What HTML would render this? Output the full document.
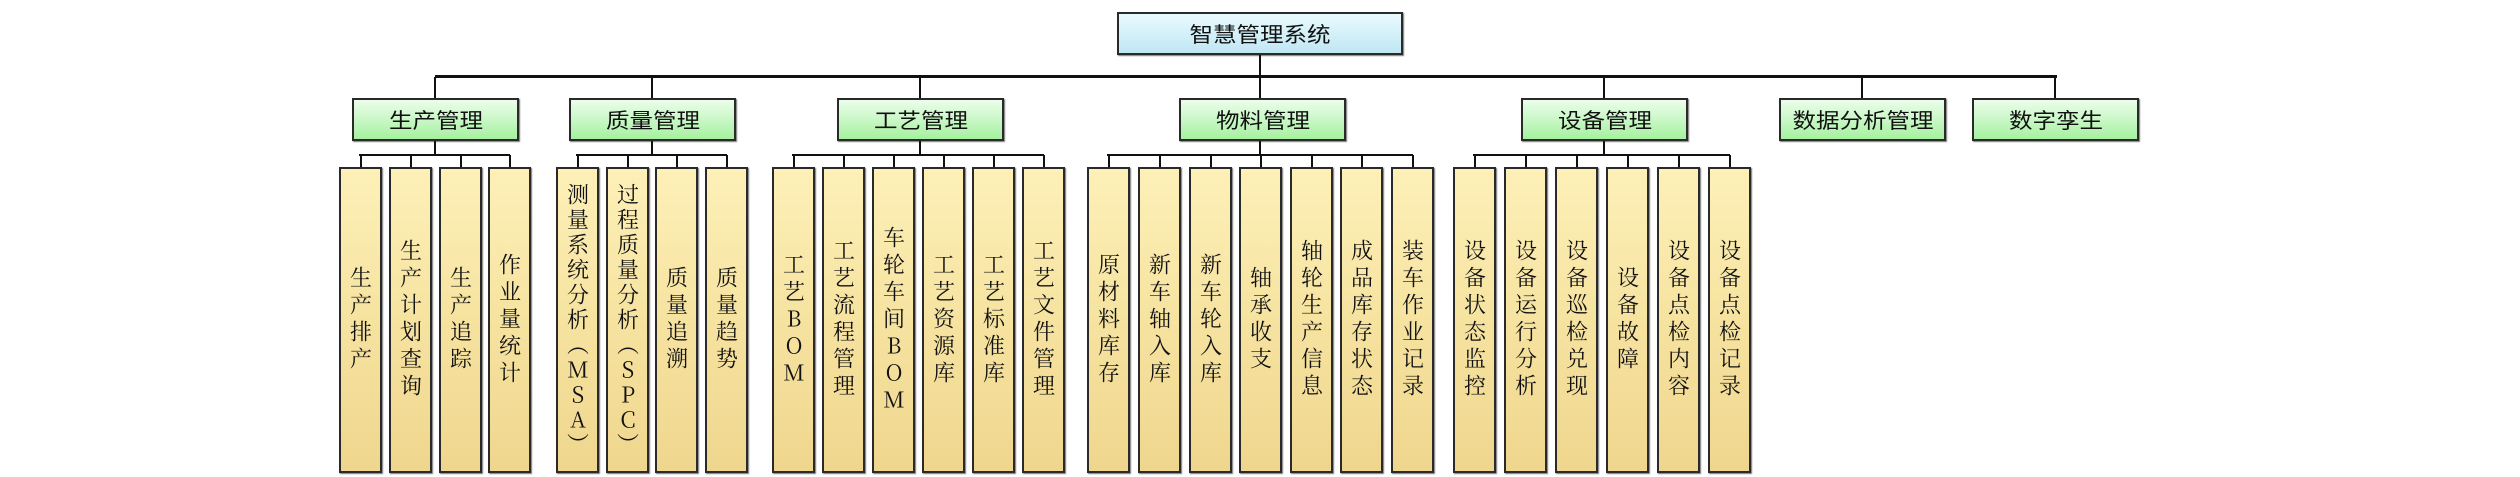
<!DOCTYPE html>
<html><head><meta charset="utf-8">
<style>
html,body{margin:0;padding:0;background:#fff;}
body{width:2520px;height:477px;position:relative;overflow:hidden;}
.l{position:absolute;background:#111;}
.box{position:absolute;box-sizing:border-box;border:2px solid #2a2a2a;box-shadow:1px 1px 1px #777;display:flex;align-items:center;justify-content:center;}
.root{left:1117px;top:12px;width:286px;height:43px;background:linear-gradient(#eafafe,#bfe7f3);font:21px "Noto Sans CJK SC",sans-serif;color:#111;}
.m{top:98px;height:43px;width:167px;background:linear-gradient(#ecfeec,#a6f19f);font:21px "Noto Sans CJK SC",sans-serif;color:#111;}
.m span,.root span{display:inline-block;transform:scaleX(1.12);}
.f{top:167px;height:306px;width:43px;background:linear-gradient(#fdf0b8,#f6e3a0 50%,#efd68e);}
.f div{writing-mode:vertical-rl;text-orientation:upright;font:22px "Noto Serif CJK SC","Noto Sans CJK SC",serif;letter-spacing:5px;color:#111;line-height:1;}
.f div.s{letter-spacing:3px;}
</style></head><body>
<div class="box root"><span>智慧管理系统</span></div>
<div class="l" style="left:1259px;top:55px;width:2px;height:22px"></div>
<div class="l" style="left:435px;top:75px;width:1622px;height:3px"></div>
<div class="l" style="left:434px;top:77px;width:2px;height:21px"></div>
<div class="l" style="left:651px;top:77px;width:2px;height:21px"></div>
<div class="l" style="left:919px;top:77px;width:2px;height:21px"></div>
<div class="l" style="left:1259px;top:77px;width:2px;height:21px"></div>
<div class="l" style="left:1603px;top:77px;width:2px;height:21px"></div>
<div class="l" style="left:1861px;top:77px;width:2px;height:21px"></div>
<div class="l" style="left:2054px;top:77px;width:2px;height:21px"></div>
<div class="box m" style="left:352px"><span>生产管理</span></div>
<div class="box m" style="left:569px"><span>质量管理</span></div>
<div class="box m" style="left:837px"><span>工艺管理</span></div>
<div class="box m" style="left:1179px"><span>物料管理</span></div>
<div class="box m" style="left:1521px"><span>设备管理</span></div>
<div class="box m" style="left:1779px"><span>数据分析管理</span></div>
<div class="box m" style="left:1972px"><span>数字孪生</span></div>
<div class="l" style="left:434px;top:141px;width:2px;height:14px"></div>
<div class="l" style="left:359px;top:154px;width:151px;height:2px"></div>
<div class="l" style="left:651px;top:141px;width:2px;height:14px"></div>
<div class="l" style="left:576px;top:154px;width:151px;height:2px"></div>
<div class="l" style="left:919px;top:141px;width:2px;height:14px"></div>
<div class="l" style="left:792px;top:154px;width:252px;height:2px"></div>
<div class="l" style="left:1259px;top:141px;width:2px;height:14px"></div>
<div class="l" style="left:1107px;top:154px;width:306px;height:2px"></div>
<div class="l" style="left:1603px;top:141px;width:2px;height:14px"></div>
<div class="l" style="left:1473px;top:154px;width:257px;height:2px"></div>
<div class="l" style="left:360px;top:155px;width:1.5px;height:12px"></div>
<div class="l" style="left:410px;top:155px;width:1.5px;height:12px"></div>
<div class="l" style="left:460px;top:155px;width:1.5px;height:12px"></div>
<div class="l" style="left:509px;top:155px;width:1.5px;height:12px"></div>
<div class="l" style="left:577px;top:155px;width:1.5px;height:12px"></div>
<div class="l" style="left:627px;top:155px;width:1.5px;height:12px"></div>
<div class="l" style="left:676px;top:155px;width:1.5px;height:12px"></div>
<div class="l" style="left:726px;top:155px;width:1.5px;height:12px"></div>
<div class="l" style="left:793px;top:155px;width:1.5px;height:12px"></div>
<div class="l" style="left:843px;top:155px;width:1.5px;height:12px"></div>
<div class="l" style="left:893px;top:155px;width:1.5px;height:12px"></div>
<div class="l" style="left:943px;top:155px;width:1.5px;height:12px"></div>
<div class="l" style="left:993px;top:155px;width:1.5px;height:12px"></div>
<div class="l" style="left:1043px;top:155px;width:1.5px;height:12px"></div>
<div class="l" style="left:1108px;top:155px;width:1.5px;height:12px"></div>
<div class="l" style="left:1159px;top:155px;width:1.5px;height:12px"></div>
<div class="l" style="left:1210px;top:155px;width:1.5px;height:12px"></div>
<div class="l" style="left:1260px;top:155px;width:1.5px;height:12px"></div>
<div class="l" style="left:1311px;top:155px;width:1.5px;height:12px"></div>
<div class="l" style="left:1361px;top:155px;width:1.5px;height:12px"></div>
<div class="l" style="left:1412px;top:155px;width:1.5px;height:12px"></div>
<div class="l" style="left:1474px;top:155px;width:1.5px;height:12px"></div>
<div class="l" style="left:1525px;top:155px;width:1.5px;height:12px"></div>
<div class="l" style="left:1576px;top:155px;width:1.5px;height:12px"></div>
<div class="l" style="left:1627px;top:155px;width:1.5px;height:12px"></div>
<div class="l" style="left:1678px;top:155px;width:1.5px;height:12px"></div>
<div class="l" style="left:1729px;top:155px;width:1.5px;height:12px"></div>
<div class="box f" style="left:339px"><div>生产排产</div></div>
<div class="box f" style="left:389px"><div>生产计划查询</div></div>
<div class="box f" style="left:439px"><div>生产追踪</div></div>
<div class="box f" style="left:488px"><div>作业量统计</div></div>
<div class="box f" style="left:556px"><div class="s">测量系统分析（MSA）</div></div>
<div class="box f" style="left:606px"><div class="s">过程质量分析（SPC）</div></div>
<div class="box f" style="left:655px"><div>质量追溯</div></div>
<div class="box f" style="left:705px"><div>质量趋势</div></div>
<div class="box f" style="left:772px"><div>工艺BOM</div></div>
<div class="box f" style="left:822px"><div>工艺流程管理</div></div>
<div class="box f" style="left:872px"><div>车轮车间BOM</div></div>
<div class="box f" style="left:922px"><div>工艺资源库</div></div>
<div class="box f" style="left:972px"><div>工艺标准库</div></div>
<div class="box f" style="left:1022px"><div>工艺文件管理</div></div>
<div class="box f" style="left:1087px"><div>原材料库存</div></div>
<div class="box f" style="left:1138px"><div>新车轴入库</div></div>
<div class="box f" style="left:1189px"><div>新车轮入库</div></div>
<div class="box f" style="left:1239px"><div>轴承收支</div></div>
<div class="box f" style="left:1290px"><div>轴轮生产信息</div></div>
<div class="box f" style="left:1340px"><div>成品库存状态</div></div>
<div class="box f" style="left:1391px"><div>装车作业记录</div></div>
<div class="box f" style="left:1453px"><div>设备状态监控</div></div>
<div class="box f" style="left:1504px"><div>设备运行分析</div></div>
<div class="box f" style="left:1555px"><div>设备巡检兑现</div></div>
<div class="box f" style="left:1606px"><div>设备故障</div></div>
<div class="box f" style="left:1657px"><div>设备点检内容</div></div>
<div class="box f" style="left:1708px"><div>设备点检记录</div></div>
</body></html>
